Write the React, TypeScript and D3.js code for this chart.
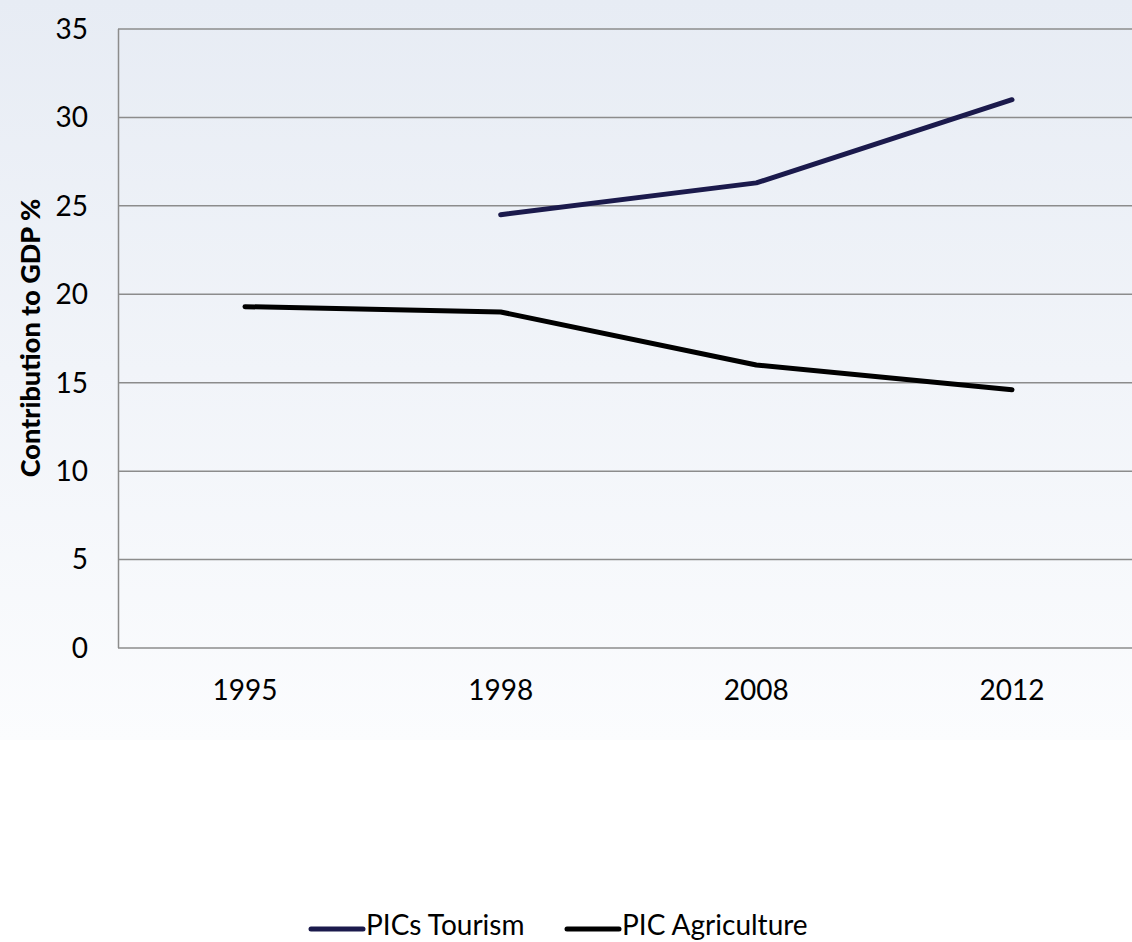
import React from "react";
import * as d3 from "d3";

const years = ["1995", "1998", "2008", "2012"];
const tourism: (number | null)[] = [null, 24.5, 26.3, 31.0];
const agriculture: (number | null)[] = [19.3, 19.0, 16.0, 14.6];
const yTicks = [0, 5, 10, 15, 20, 25, 30, 35];

const W = 1132;
const H = 942;
const FONT = "Lato, 'Open Sans', sans-serif";

export default function App() {
  const x = d3.scalePoint<string>().domain(years).range([245, 1012]);
  const y = d3.scaleLinear().domain([0, 35]).range([648, 29]);
  const line = d3
    .line<number | null>()
    .defined((d) => d !== null)
    .x((_, i) => x(years[i]) as number)
    .y((d) => y(d as number));

  const series = [
    { name: "PICs Tourism", values: tourism, color: "#1b1a4c", lx: 311 },
    { name: "PIC Agriculture", values: agriculture, color: "#000000", lx: 567 },
  ];

  return (
    <svg
      width={W}
      height={H}
      style={{ position: "absolute", left: 0, top: 0, display: "block" }}
    >
      <defs>
        <linearGradient id="bg" x1="0" y1="0" x2="0" y2="1">
          <stop offset="0" stopColor="#e7ecf4" />
          <stop offset="1" stopColor="#fbfcfe" />
        </linearGradient>
      </defs>
      <rect x={0} y={0} width={W} height={H} fill="#ffffff" />
      <rect x={0} y={0} width={W} height={740} fill="url(#bg)" />

      {/* gridlines */}
      {yTicks.map((t) => (
        <line
          key={t}
          x1={118}
          x2={W}
          y1={y(t)}
          y2={y(t)}
          stroke="#8c8c8c"
          strokeWidth={1.5}
        />
      ))}
      <line x1={118.5} x2={118.5} y1={y(35)} y2={y(0)} stroke="#8c8c8c" strokeWidth={1.5} />

      {/* y tick labels */}
      {yTicks.map((t) => (
        <text
          key={t}
          x={88}
          y={y(t)}
          dy="0.35em"
          textAnchor="end"
          fontFamily={FONT}
          fontSize={28}
          fill="#000"
        >
          {t}
        </text>
      ))}

      {/* x tick labels */}
      {years.map((yr) => (
        <text
          key={yr}
          x={x(yr)}
          y={690}
          dy="0.35em"
          textAnchor="middle"
          fontFamily={FONT}
          fontSize={28}
          fill="#000"
        >
          {yr}
        </text>
      ))}

      {/* axis title */}
      <text
        transform={`translate(31,338) rotate(-90)`}
        textAnchor="middle"
        dy="0.35em"
        fontFamily={FONT}
        fontWeight="900"
        fontSize={27}
        fill="#000"
      >
        Contribution to GDP %
      </text>

      {/* series */}
      {series.map((s) => (
        <path
          key={s.name}
          d={line(s.values) || ""}
          fill="none"
          stroke={s.color}
          strokeWidth={5}
          strokeLinecap="round"
          strokeLinejoin="round"
        />
      ))}

      {/* legend */}
      {series.map((s) => (
        <g key={s.name}>
          <line
            x1={s.lx}
            x2={s.lx + 52}
            y1={929}
            y2={929}
            stroke={s.color}
            strokeWidth={5}
            strokeLinecap="round"
          />
          <text
            x={s.lx + 55}
            y={935}
            fontFamily={FONT}
            fontSize={28}
            fill="#000"
          >
            {s.name}
          </text>
        </g>
      ))}
    </svg>
  );
}
